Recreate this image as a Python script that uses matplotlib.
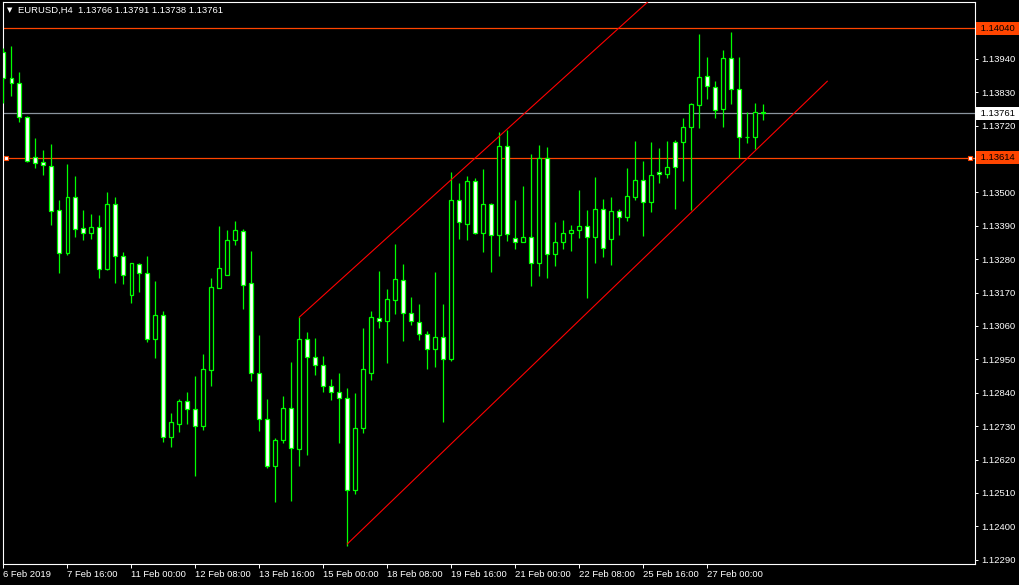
import numpy as np
import matplotlib.pyplot as plt

# EURUSD H4 candles, oldest first
opens = [1.13961, 1.13876, 1.13859, 1.13748, 1.13616, 1.13599, 1.13586, 1.13442, 1.13300, 1.13484,
         1.13382, 1.13366, 1.13386, 1.13247, 1.13461, 1.13290, 1.13162, 1.13264, 1.13234, 1.13017,
         1.13096, 1.12695, 1.12737, 1.12813, 1.12787, 1.12731, 1.12915, 1.13185, 1.13228, 1.13343,
         1.13372, 1.13201, 1.12905, 1.12754, 1.12599, 1.12685, 1.12790, 1.12655, 1.13017, 1.12958,
         1.12932, 1.12863, 1.12843, 1.12823, 1.12520, 1.12724, 1.12905, 1.13086, 1.13076, 1.13145,
         1.13211, 1.13103, 1.13073, 1.13034, 1.12984, 1.13024, 1.12951, 1.13474, 1.13395, 1.13537,
         1.13366, 1.13461, 1.13359, 1.13652, 1.13349, 1.13336, 1.13353, 1.13267, 1.13613, 1.13297,
         1.13336, 1.13366, 1.13376, 1.13389, 1.13353, 1.13445, 1.13346, 1.13438, 1.13418, 1.13484,
         1.13540, 1.13468, 1.13567, 1.13560, 1.13665, 1.13665, 1.13715, 1.13787, 1.13882, 1.13846,
         1.13774, 1.13942, 1.13840, 1.13682, 1.13682, 1.13766]
highs = [1.13974, 1.13981, 1.13896, 1.13751, 1.13678, 1.13639, 1.13659, 1.13474, 1.13593, 1.13553,
         1.13442, 1.13428, 1.13425, 1.13501, 1.13484, 1.13303, 1.13267, 1.13267, 1.13290, 1.13208,
         1.13109, 1.12774, 1.12820, 1.12843, 1.12895, 1.12968, 1.13218, 1.13389, 1.13376, 1.13405,
         1.13379, 1.13307, 1.13030, 1.12820, 1.12691, 1.12830, 1.12941, 1.13089, 1.13040, 1.13020,
         1.12961, 1.12886, 1.12905, 1.12856, 1.12839, 1.13053, 1.13109, 1.13241, 1.13182, 1.13330,
         1.13264, 1.13155, 1.13132, 1.13043, 1.13238, 1.13132, 1.13567, 1.13530, 1.13553, 1.13547,
         1.13576, 1.13465, 1.13698, 1.13705, 1.13474, 1.13520, 1.13626, 1.13655, 1.13649, 1.13402,
         1.13409, 1.13392, 1.13507, 1.13442, 1.13550, 1.13478, 1.13484, 1.13445, 1.13580, 1.13668,
         1.13603, 1.13665, 1.13645, 1.13668, 1.13672, 1.13744, 1.13794, 1.14021, 1.13945, 1.13866,
         1.13968, 1.14027, 1.13945, 1.13764, 1.13794, 1.13791]
lows = [1.13794, 1.13819, 1.13733, 1.13599, 1.13580, 1.13557, 1.13392, 1.13234, 1.13293, 1.13353,
        1.13343, 1.13346, 1.13218, 1.13244, 1.13201, 1.13198, 1.13136, 1.13172, 1.13007, 1.12955,
        1.12678, 1.12662, 1.12711, 1.12737, 1.12566, 1.12718, 1.12863, 1.13185, 1.13228, 1.13326,
        1.13116, 1.12879, 1.12714, 1.12593, 1.12481, 1.12675, 1.12484, 1.12599, 1.12635, 1.12899,
        1.12843, 1.12816, 1.12675, 1.12335, 1.12507, 1.12708, 1.12882, 1.13053, 1.12938, 1.13099,
        1.13010, 1.13063, 1.13014, 1.12918, 1.12925, 1.12744, 1.12945, 1.13346, 1.13343, 1.13363,
        1.13303, 1.13238, 1.13290, 1.13340, 1.13313, 1.13336, 1.13191, 1.13224, 1.13218, 1.13257,
        1.13313, 1.13307, 1.13349, 1.13152, 1.13267, 1.13287, 1.13261, 1.13359, 1.13405, 1.13474,
        1.13356, 1.13435, 1.13530, 1.13547, 1.13445, 1.13537, 1.13442, 1.13711, 1.13807, 1.13744,
        1.13715, 1.13790, 1.13614, 1.13662, 1.13642, 1.13738]
closes = [1.13876, 1.13859, 1.13748, 1.13603, 1.13596, 1.13590, 1.13438, 1.13300, 1.13484, 1.13379,
          1.13366, 1.13386, 1.13247, 1.13461, 1.13290, 1.13228, 1.13267, 1.13234, 1.13017, 1.13096,
          1.12695, 1.12744, 1.12813, 1.12787, 1.12731, 1.12918, 1.13188, 1.13251, 1.13343, 1.13376,
          1.13195, 1.12905, 1.12754, 1.12599, 1.12685, 1.12790, 1.12658, 1.13017, 1.12958, 1.12932,
          1.12863, 1.12843, 1.12823, 1.12520, 1.12724, 1.12918, 1.13089, 1.13076, 1.13149, 1.13214,
          1.13103, 1.13076, 1.13034, 1.12984, 1.13024, 1.12951, 1.13474, 1.13402, 1.13537, 1.13366,
          1.13461, 1.13359, 1.13652, 1.13363, 1.13336, 1.13353, 1.13267, 1.13613, 1.13297, 1.13336,
          1.13366, 1.13376, 1.13389, 1.13353, 1.13445, 1.13316, 1.13438, 1.13418, 1.13488, 1.13540,
          1.13468, 1.13557, 1.13560, 1.13583, 1.13583, 1.13715, 1.13790, 1.13879, 1.13850, 1.13771,
          1.13942, 1.13840, 1.13682, 1.13682, 1.13766, 1.13761]

symbol = 'EURUSD,H4'
bid = 1.13761
levels = [1.14040, 1.13614]

# trend lines: (bar index, price) anchors
upper_bars, upper_prices = [37, 80], [1.13089, 1.14114]
lower_bars, lower_prices = [43, 103], [1.12342, 1.13866]

time_labels = ['6 Feb 2019', '7 Feb 16:00', '11 Feb 00:00', '12 Feb 08:00', '13 Feb 16:00',
               '15 Feb 00:00', '18 Feb 08:00', '19 Feb 16:00', '21 Feb 00:00', '22 Feb 08:00',
               '25 Feb 16:00', '27 Feb 00:00']
price_ticks = [1.12290, 1.12400, 1.12510, 1.12620, 1.12730, 1.12840, 1.12950, 1.13060, 1.13170,
               1.13280, 1.13390, 1.13500, 1.13610, 1.13720, 1.13830, 1.13940, 1.14050]

lime = '#00ff00'
orange = '#ff4500'
font = 'Liberation Sans'
fs = 6.8

fig = plt.figure(figsize=(10.2, 5.85), dpi=100, facecolor='black')
ax = fig.add_axes([2.7 / 1020, 20.7 / 585, 972 / 1020, 562 / 585], facecolor='black')

x = np.arange(len(opens))
o = np.array(opens)
c = np.array(closes)
bull = c >= o

ax.vlines(x, lows, highs, color=lime, linewidth=0.9, zorder=3)
ax.bar(x, np.abs(c - o), bottom=np.minimum(o, c), width=0.45,
       color=np.where(bull, 'black', 'white'), edgecolor=lime, linewidth=0.9, zorder=4)

# horizontal levels and bid line
for lv in levels:
    ax.axhline(lv, color=orange, linewidth=0.9, zorder=2)
ax.axhline(bid, color='#8a949e', linewidth=0.9, zorder=2)

# selection handles on the lower level
ax.plot([0.003, 0.995], [levels[1]] * 2, ls='none', marker='s', ms=3.2, mfc='white',
        mec=orange, mew=0.8, transform=ax.get_yaxis_transform(), clip_on=False, zorder=6)

# trend lines, the upper one runs on as a ray
ub = np.array([upper_bars[0], 130])
slope_u = (upper_prices[1] - upper_prices[0]) / (upper_bars[1] - upper_bars[0])
ax.plot(ub, upper_prices[0] + slope_u * (ub - upper_bars[0]), color='red', linewidth=0.8, zorder=5)
ax.plot(lower_bars, lower_prices, color='red', linewidth=0.8, zorder=5)

ax.set_xlim(-0.075, 121.425)
ax.set_ylim(1.12275, 1.14126)

# scale labels hidden behind a price tag are left blank
def covered(p):
    return any(abs(p - lv) < 0.0002 for lv in levels)

ax.yaxis.tick_right()
ax.set_yticks(price_ticks)
ax.set_yticklabels(['' if covered(p) else f'{p:.5f}' for p in price_ticks])
ax.set_xticks(np.arange(0, len(opens), 8)[:len(time_labels)])
ax.set_xticklabels(time_labels)
for lab in ax.get_xticklabels():
    lab.set_horizontalalignment('left')
ax.tick_params(colors='white', labelcolor='white', width=0.7, labelsize=fs)
ax.tick_params(axis='y', length=2.2, pad=2.2)
ax.tick_params(axis='x', length=2.8, pad=1.2)
for lab in ax.get_xticklabels() + ax.get_yticklabels():
    lab.set_family(font)
for sp in ax.spines.values():
    sp.set_color('white')
    sp.set_linewidth(0.8)

# price tags on the right scale
tag = dict(transform=ax.get_yaxis_transform(), ha='left', va='center', fontsize=fs,
           family=font, clip_on=False, zorder=10)
for lv in levels:
    ax.text(1.003, lv, f' {lv:.5f} ', color='black',
            bbox=dict(boxstyle='square,pad=0.2', fc=orange, ec='none'), **tag)
ax.text(1.003, bid, f' {bid:.5f} ', color='black',
        bbox=dict(boxstyle='square,pad=0.2', fc='white', ec='none'), **tag)

# header
fig.text(7 / 1020, 1 - 10.5 / 585, '▼', color='white', fontsize=5, family='DejaVu Sans', va='center')
fig.text(18 / 1020, 1 - 10.5 / 585,
         f'{symbol}  {opens[-1]:.5f} {highs[-1]:.5f} {lows[-1]:.5f} {closes[-1]:.5f}',
         color='white', fontsize=fs, family=font, va='center')

fig.savefig('out.png', dpi=100, facecolor='black')
